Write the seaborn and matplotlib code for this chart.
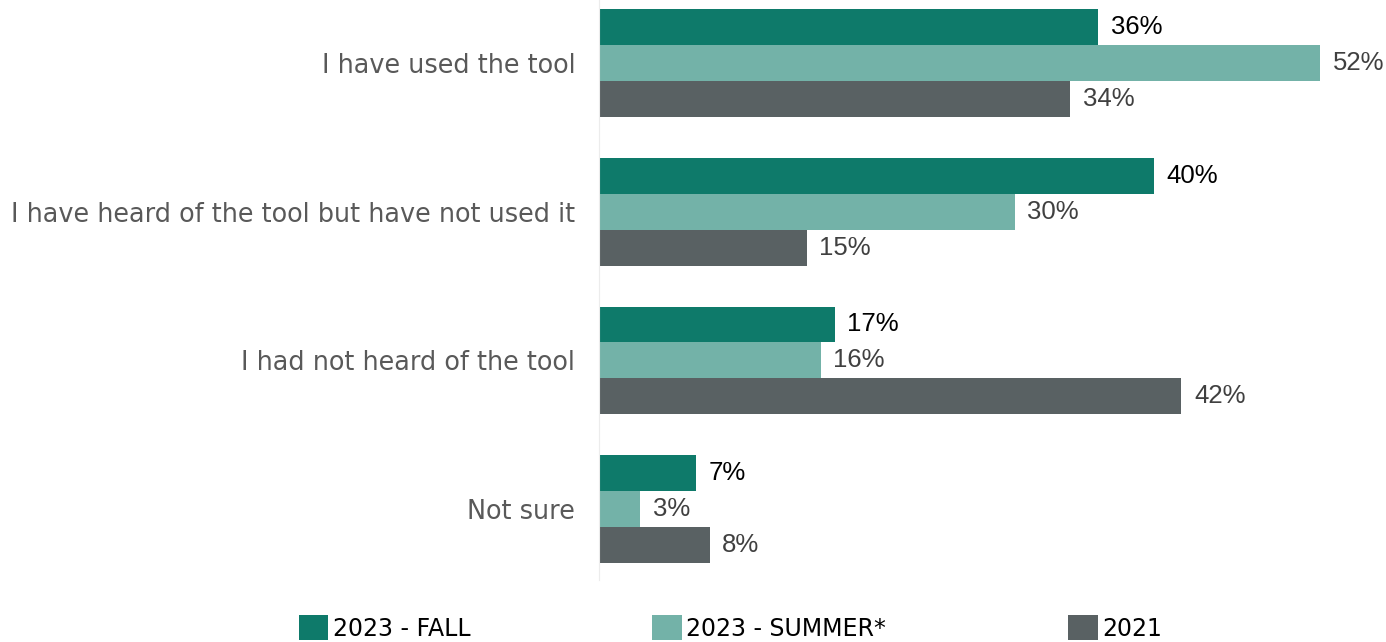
import matplotlib
matplotlib.use("Agg")
import matplotlib.pyplot as plt
import pandas as pd
import seaborn as sns
from matplotlib.patches import Patch

categories = [
    "I have used the tool",
    "I have heard of the tool but have not used it",
    "I had not heard of the tool",
    "Not sure",
]
series_names = ["2023 - FALL", "2023 - SUMMER*", "2021"]
fall_2023 = [36, 40, 17, 7]
summer_2023 = [52, 30, 16, 3]
year_2021 = [34, 15, 42, 8]

colors = ["#0e7a6a", "#73b2a8", "#596163"]
label_colors = ["#000000", "#404040", "#404040"]

df = pd.DataFrame({
    "category": categories * 3,
    "series": [s for s in series_names for _ in categories],
    "value": fall_2023 + summer_2023 + year_2021,
})

sns.set_theme(style="white")
plt.rcParams["font.family"] = ["DejaVu Sans"]

fig = plt.figure(figsize=(13.86, 6.42), dpi=100)
ax = fig.add_axes([0.432, 1 - 580 / 642, 0.568, 580 / 642])

sns.barplot(
    data=df,
    y="category",
    x="value",
    hue="series",
    hue_order=series_names,
    order=categories,
    palette=colors,
    orient="h",
    width=0.725,
    saturation=1,
    errorbar=None,
    legend=False,
    linewidth=0,
    ax=ax,
)

for container, col in zip(ax.containers, label_colors):
    ax.bar_label(
        container,
        fmt="%g%%",
        padding=9,
        fontsize=18.5,
        color=col,
        family=["Liberation Sans", "DejaVu Sans"],
    )

ax.set_xlim(0, 56.74)
ax.set_ylim(3.477, -0.424)
ax.set_xlabel("")
ax.set_ylabel("")
ax.set_xticks([])
ax.tick_params(axis="y", length=0, pad=17, labelsize=18.4, labelcolor="#595959")
for side in ["top", "right", "bottom"]:
    ax.spines[side].set_visible(False)
ax.spines["left"].set_color("#ececec")
ax.spines["left"].set_linewidth(0.8)

handles = [Patch(facecolor=c, edgecolor="none") for c in colors]
fig.legend(
    handles,
    series_names,
    loc="center",
    bbox_to_anchor=(0.527, 0.022),
    ncol=3,
    frameon=False,
    handlelength=1.25,
    handleheight=1.25,
    handletextpad=0.2,
    columnspacing=7.7,
    labelcolor="#000000",
    prop={"family": ["DejaVu Sans"], "size": 17},
)

fig.savefig("out.png", dpi=100)
